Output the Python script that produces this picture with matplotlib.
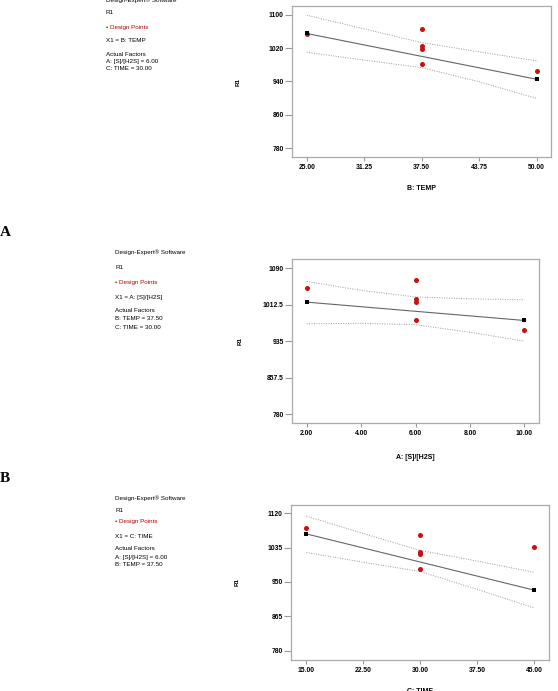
import matplotlib.pyplot as plt
import numpy as np

plt.rcParams['font.family'] = ['Liberation Sans', 'DejaVu Sans']

#---------------------------------data---------------------------------
# panel 1 : B: TEMP
temp_ticks = [25.00, 31.25, 37.50, 43.75, 50.00]
temp_yticks = [780, 860, 940, 1020, 1100]
temp_pts_x = [25.0, 37.5, 37.5, 37.5, 37.5, 50.0]
temp_pts_y = [1053, 1066, 1025, 1018, 982, 966]
temp_fit = [1055, 945]
temp_upper = [1099, 1066, 1033, 1011, 989]
temp_lower = [1010, 991, 973, 939, 899]

# panel 2 : A: [S]/[H2S]
ratio_ticks = [2.00, 4.00, 6.00, 8.00, 10.00]
ratio_yticks = [780, 857.5, 935, 1012.5, 1090]
ratio_pts_x = [2.0, 6.0, 6.0, 6.0, 6.0, 10.0]
ratio_pts_y = [1049, 1066, 1024, 1018, 981, 959]
ratio_fit = [1018, 979]
ratio_upper = [1062, 1043, 1029, 1025, 1023]
ratio_lower = [972, 973, 970, 954, 935]

# panel 3 : C: TIME
time_ticks = [15.00, 22.50, 30.00, 37.50, 45.00]
time_yticks = [780, 865, 950, 1035, 1120]
time_pts_x = [15.0, 30.0, 30.0, 30.0, 30.0, 45.0]
time_pts_y = [1084, 1066, 1025, 1019, 982, 1037]
time_fit = [1069, 930]
time_upper = [1113, 1070, 1028, 1002, 974]
time_lower = [1023, 999, 976, 932, 886]

W, H = 558, 691

def px(x, y):
    return x / W, 1 - y / H

def draw_panel(fig, rect, xticks, yticks, ylabels, xlim, ylim, pts_x, pts_y,
               fit, upper, lower, xlabel, xl_y):
    l, t, r, b = rect
    ax = fig.add_axes([l / W, 1 - b / H, (r - l) / W, (b - t) / H])
    ax.set_xlim(xlim)
    ax.set_ylim(ylim)

    ax.plot(xticks, upper, ls=(0, (1, 1.5)), c='#999999', lw=0.7)
    ax.plot(xticks, lower, ls=(0, (1, 1.5)), c='#999999', lw=0.7)
    ends = [xticks[0], xticks[-1]]
    ax.plot(ends, fit, c='#666666', lw=0.8)
    ax.scatter(pts_x, pts_y, marker='o', s=13, c='#c81010', zorder=3, linewidths=0)
    ax.scatter(ends, fit, marker='s', s=11, c='k', zorder=4, linewidths=0)

    ax.set_xticks(xticks)
    ax.set_xticklabels([f'{v:.2f}' for v in xticks])
    ax.set_yticks(yticks)
    ax.set_yticklabels(ylabels)
    for lab in ax.get_xticklabels() + ax.get_yticklabels():
        lab.set_fontweight('bold')
        lab.set_fontsize(4.9)
    ax.tick_params(axis='y', length=5, width=0.8, color='#999999', pad=1)
    ax.tick_params(axis='x', length=3, width=0.8, color='#999999', pad=2)
    for sp in ax.spines.values():
        sp.set_color('#aaaaaa')
        sp.set_linewidth(0.9)

    ax.set_xlabel(xlabel, fontsize=5, fontweight='bold')
    ax.xaxis.set_label_coords(0.5, xl_y)
    ax.set_ylabel('R1', fontsize=4.5, fontweight='bold')
    ax.yaxis.set_label_coords(-0.2, 0.5)
    return ax

def side_text(fig, x, ys, x1, factors):
    lines = ['Design-Expert\u00ae Software', 'R1', None, x1, 'Actual Factors'] + factors
    for y, s in zip(ys, lines):
        if s is None:
            fig.text(*px(x, y), '\u2022 Design Points', fontsize=4.5, color='#b00000', va='center')
        else:
            fig.text(*px(x, y), s, fontsize=4.5, va='center')

fig = plt.figure(figsize=(W / 100, H / 100), dpi=100)

draw_panel(fig, (292, 6, 551, 157), temp_ticks, temp_yticks,
           ['780', '860', '940', '1020', '1100'], (23.4, 51.55), (758.4, 1121),
           temp_pts_x, temp_pts_y, temp_fit, temp_upper, temp_lower, 'B: TEMP', -0.185)
side_text(fig, 106, [0, 13, 27, 41, 54, 61, 68], 'X1 = B: TEMP',
          ['A: [S]/[H2S] = 6.00', 'C: TIME = 30.00'])

draw_panel(fig, (292, 259, 539, 423), ratio_ticks, ratio_yticks,
           ['780', '857.5', '935', '1012.5', '1090'], (1.46, 10.54), (761, 1109.7),
           ratio_pts_x, ratio_pts_y, ratio_fit, ratio_upper, ratio_lower, 'A: [S]/[H2S]', -0.19)
side_text(fig, 115, [252, 267, 282, 297, 311, 319, 327], 'X1 = A: [S]/[H2S]',
          ['B: TEMP = 37.50', 'C: TIME = 30.00'])

draw_panel(fig, (291, 505, 549, 660), time_ticks, time_yticks,
           ['780', '865', '950', '1035', '1120'], (12.98, 47.0), (757, 1140.5),
           time_pts_x, time_pts_y, time_fit, time_upper, time_lower, 'C: TIME', -0.18)
side_text(fig, 115, [498, 510, 522, 536, 549, 557, 564], 'X1 = C: TIME',
          ['A: [S]/[H2S] = 6.00', 'B: TEMP = 37.50'])

fig.text(*px(0, 232), 'A', family='Liberation Serif', fontweight='bold', fontsize=11, va='center')
fig.text(*px(0, 478), 'B', family='Liberation Serif', fontweight='bold', fontsize=11, va='center')

plt.savefig('out.png', dpi=100)
